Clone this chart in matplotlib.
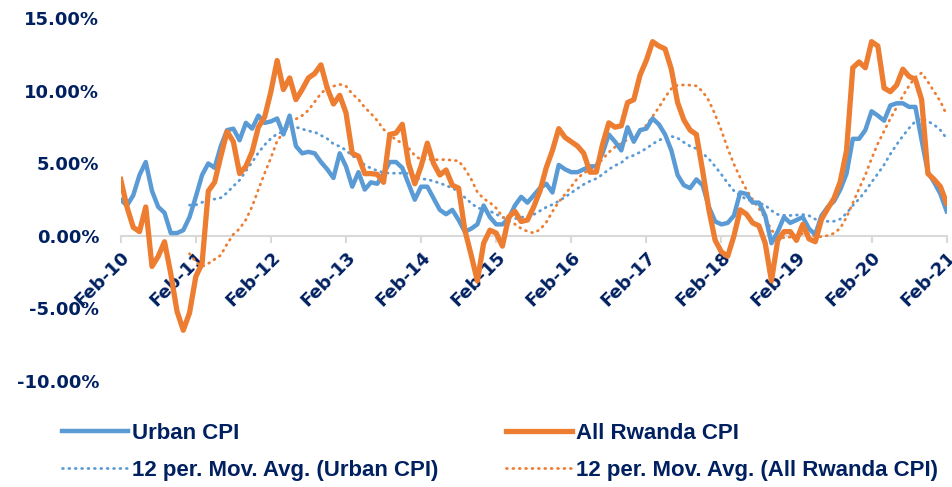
import numpy as np
import pandas as pd
import matplotlib.pyplot as plt
from matplotlib.ticker import FixedLocator, FuncFormatter

# monthly inflation, Feb-10 .. Feb-21 (percent)
urban_cpi = [2.5, 2.1, 2.8, 4.2, 5.1, 3.1, 2.0, 1.6, 0.2, 0.2, 0.4, 1.3,
             2.7, 4.2, 5.0, 4.7, 6.2, 7.3, 7.4, 6.6, 7.8, 7.4, 8.3, 7.8,
             7.9, 8.1, 7.0, 8.3, 6.2, 5.7, 5.8, 5.7, 5.1, 4.6, 4.0, 5.7,
             4.8, 3.4, 4.4, 3.2, 3.7, 3.6, 4.3, 5.1, 5.1, 4.7, 3.6, 2.5,
             3.4, 3.4, 2.6, 1.8, 1.5, 1.8, 1.1, 0.3, 0.5, 0.8, 2.1, 1.3,
             0.8, 0.8, 1.2, 2.1, 2.7, 2.3, 2.8, 3.3, 3.6, 3.0, 4.9, 4.6,
             4.4, 4.4, 4.6, 4.8, 4.8, 5.7, 7.0, 6.5, 5.9, 7.5, 6.5, 7.3,
             7.4, 8.1, 7.7, 7.0, 5.9, 4.2, 3.5, 3.3, 3.9, 3.5, 2.0, 1.0,
             0.8, 0.9, 1.4, 3.0, 2.9, 2.3, 2.3, 1.4, -0.5, 0.3, 1.3, 0.9,
             1.1, 1.3, 0.5, 0.1, 1.4, 2.0, 2.4, 3.2, 4.3, 6.7, 6.7, 7.3,
             8.6, 8.3, 7.95, 9.0, 9.15, 9.15, 8.9, 8.9, 6.6, 4.4, 3.7, 2.9,
             1.7]
rwanda_cpi = [3.9, 2.0, 0.6, 0.3, 2.0, -2.1, -1.4, -0.4, -2.6, -5.2, -6.5, -5.3,
              -2.8, -1.9, 3.1, 3.7, 5.5, 7.2, 6.5, 4.3, 4.8, 5.8, 7.5, 8.2,
              9.95, 12.1, 10.1, 10.9, 9.4, 10.1, 10.9, 11.2, 11.8, 10.2, 9.1, 9.7,
              8.5, 5.7, 5.5, 4.3, 4.3, 4.25, 3.7, 7.0, 7.1, 7.7, 5.0, 3.6,
              4.8, 6.4, 5.0, 4.2, 4.55, 3.5, 3.3, 0.4, -1.3, -3.1, -0.5, 0.4,
              0.2, -0.7, 1.3, 1.7, 1.0, 1.1, 2.0, 3.1, 4.7, 5.9, 7.4, 6.8,
              6.5, 6.2, 5.7, 4.4, 4.4, 6.3, 7.8, 7.5, 7.6, 9.2, 9.4, 11.1,
              12.1, 13.4, 13.1, 12.9, 11.5, 9.2, 8.0, 7.3, 7.0, 4.5, 1.8, -0.3,
              -1.1, -1.4, 0.0, 1.8, 1.5, 0.9, 0.7, -0.5, -3.1, -0.3, 0.3, 0.3,
              -0.3, 0.8, -0.2, -0.4, 1.15, 1.9, 2.6, 3.75, 5.9, 11.6, 12.0, 11.6,
              13.4, 13.1, 10.2, 9.95, 10.4, 11.5, 11.0, 10.8, 9.4, 4.3, 3.9, 3.4,
              2.25]
year_labels = ["Feb-10", "Feb-11", "Feb-12", "Feb-13", "Feb-14", "Feb-15",
               "Feb-16", "Feb-17", "Feb-18", "Feb-19", "Feb-20", "Feb-21"]

df = pd.DataFrame({"urban": urban_cpi, "rwanda": rwanda_cpi})
df["urban_ma"] = df["urban"].rolling(12).mean()
df["rwanda_ma"] = df["rwanda"].rolling(12).mean()

navy = "#002060"
blue = "#5B9BD5"
orange = "#ED7D31"
dots = (0, (0.3, 2.0))

fig = plt.figure(figsize=(9.52, 4.87), dpi=100)
ax = fig.add_axes([0.1268, 0.2177, 0.8676, 0.7444])

x = np.arange(len(df))
l1, = ax.plot(x, df["urban"], color=blue, lw=3.2, solid_joinstyle="round",
              label="Urban CPI", zorder=3)
l2, = ax.plot(x, df["rwanda"], color=orange, lw=3.8, solid_joinstyle="round",
              label="All Rwanda CPI", zorder=4)
l3, = ax.plot(x, df["urban_ma"], color=blue, lw=2.0, linestyle=dots,
              dash_capstyle="round", label="12 per. Mov. Avg. (Urban CPI)", zorder=2)
l4, = ax.plot(x, df["rwanda_ma"], color=orange, lw=2.0, linestyle=dots,
              dash_capstyle="round", label="12 per. Mov. Avg. (All Rwanda CPI)", zorder=2)

ax.set_xlim(0, len(df) - 1)
ax.set_ylim(-10, 15)
ax.yaxis.set_major_locator(FixedLocator(np.arange(-10, 16, 5)))
ax.yaxis.set_major_formatter(FuncFormatter(lambda v, p: f"{v:.2f}%"))

for s in ["top", "right", "left"]:
    ax.spines[s].set_visible(False)
ax.spines["bottom"].set_position(("data", 0))
ax.spines["bottom"].set_color("#D9D9D9")
ax.spines["bottom"].set_linewidth(1.5)
ax.spines["bottom"].set_zorder(1)

ax.set_xticks(np.arange(0, len(df), 12))
ax.set_xticklabels(year_labels, rotation=45, ha="right", va="top",
                   rotation_mode="anchor", fontsize=13, fontweight="bold", color=navy)
ax.tick_params(axis="x", direction="out", length=5, width=1.5, color="#D9D9D9", pad=4)
ax.tick_params(axis="y", length=0, pad=15.5, labelsize=13, labelcolor=navy)
for t in ax.get_yticklabels():
    t.set_fontweight("bold")

leg_font = {"family": "Liberation Sans", "weight": "bold", "size": 16}
leg_opts = dict(loc="center left", frameon=False, handlelength=2.97, handletextpad=0.18,
                labelspacing=0.73, borderpad=0, borderaxespad=0, prop=leg_font,
                labelcolor=navy)
fig.legend(handles=[l1, l3], bbox_to_anchor=(0.0651, 0.072), **leg_opts)
fig.legend(handles=[l2, l4], bbox_to_anchor=(0.532, 0.072), **leg_opts)

fig.savefig("out.png", dpi=100)
